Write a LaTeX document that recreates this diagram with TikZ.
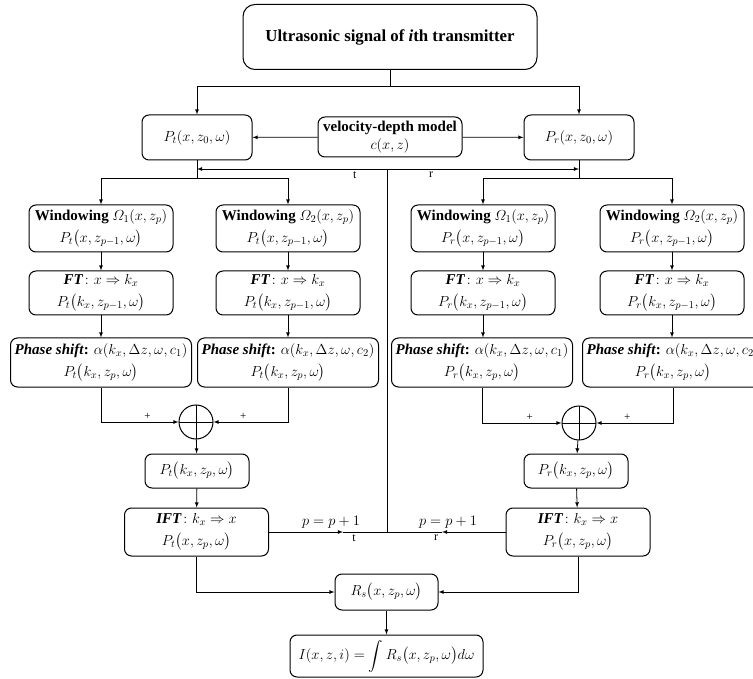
\RequirePackage{fix-cm}
\documentclass[tikz,border=0pt]{standalone}
\usepackage{amsmath}
\usepackage{fontspec}
\setmainfont{Liberation Serif}
\DeclareMathSizes{15}{14.5}{10.5}{8}
\begin{document}
\begin{tikzpicture}[
		x=1pt, y=-1pt,
		font=\fontsize{15}{22}\selectfont,
		line width=0.8pt,
		stage/.style = {draw, rounded corners=7pt, line width=1pt, align=center, inner sep=1pt},
		winbox/.style = {stage, minimum width=144pt, minimum height=47pt},
		ftbox/.style = {stage, minimum width=144pt, minimum height=44pt},
		phbox/.style = {stage, minimum width=181pt, minimum height=49pt},
		iftbox/.style = {stage, minimum width=144pt, minimum height=48pt},
		summer/.style = {draw, circle, line width=1pt, minimum size=34pt, inner sep=0pt,
				path picture={\draw (path picture bounding box.north) -- (path picture bounding box.south)
						(path picture bounding box.west) -- (path picture bounding box.east);}},
		lbl/.style = {font=\fontsize{12}{14}\selectfont, inner sep=2pt},
		plus/.style = {font=\fontsize{11}{13}\selectfont, inner sep=2pt},
	]
	\useasboundingbox (0,0) rectangle (753,679);
	\node[stage, rounded corners=12pt, minimum width=294pt, minimum height=65pt, font=\fontsize{16.8}{20}\selectfont] (sig) at (390,37) {\textbf{Ultrasonic signal of \textit{i}th transmitter}};
	\node[stage, minimum width=110pt, minimum height=45pt] (pt0) at (197,137.5) {$P_t(x,z_0,\omega)$};
	\node[stage, minimum width=144pt, minimum height=40pt] (vel) at (390,137) {\textbf{velocity-depth model}\\[-4pt]$c(x,z)$};
	\node[stage, minimum width=110pt, minimum height=45pt] (pr0) at (579,137.5) {$P_r(x,z_0,\omega)$};

	\node[winbox] (wt1) at (101,228.5) {\textbf{Windowing} $\varOmega_1(x,z_p)$\\$P_t\bigl(x,z_{p-1},\omega\bigr)$};
	\node[winbox] (wt2) at (288,228.5) {\textbf{Windowing} $\varOmega_2(x,z_p)$\\$P_t\bigl(x,z_{p-1},\omega\bigr)$};
	\node[winbox] (wr1) at (483,228.5) {\textbf{Windowing} $\varOmega_1(x,z_p)$\\$P_r\bigl(x,z_{p-1},\omega\bigr)$};
	\node[winbox] (wr2) at (672,228.5) {\textbf{Windowing} $\varOmega_2(x,z_p)$\\$P_r\bigl(x,z_{p-1},\omega\bigr)$};

	\node[ftbox] (ftt1) at (101,293) {\textbf{\textit{FT}}$\colon x\Rightarrow k_x$\\$P_t\bigl(k_x,z_{p-1},\omega\bigr)$};
	\node[ftbox] (ftt2) at (288,293) {\textbf{\textit{FT}}$\colon x\Rightarrow k_x$\\$P_t\bigl(k_x,z_{p-1},\omega\bigr)$};
	\node[ftbox] (ftr1) at (483,293) {\textbf{\textit{FT}}$\colon x\Rightarrow k_x$\\$P_r\bigl(k_x,z_{p-1},\omega\bigr)$};
	\node[ftbox] (ftr2) at (672,293) {\textbf{\textit{FT}}$\colon x\Rightarrow k_x$\\$P_r\bigl(k_x,z_{p-1},\omega\bigr)$};

	\node[phbox] (pht1) at (101,362.5) {\textbf{\textit{Phase shift}:} $\alpha(k_x,\Delta z,\omega,c_1)$\\$P_t\bigl(k_x,z_p,\omega\bigr)$};
	\node[phbox] (pht2) at (288,362.5) {\textbf{\textit{Phase shift}:} $\alpha(k_x,\Delta z,\omega,c_2)$\\$P_t\bigl(k_x,z_p,\omega\bigr)$};
	\node[phbox] (phr1) at (482,362.5) {\textbf{\textit{Phase shift}:} $\alpha(k_x,\Delta z,\omega,c_1)$\\$P_r\bigl(k_x,z_p,\omega\bigr)$};
	\node[phbox] (phr2) at (673,362.5) {\textbf{\textit{Phase shift}:} $\alpha(k_x,\Delta z,\omega,c_2)$\\$P_r\bigl(k_x,z_p,\omega\bigr)$};

	\node[summer] (sumt) at (196,422) {};
	\node[summer] (sumr) at (579,423) {};
	\node[stage, minimum width=104pt, minimum height=34pt] (ptk) at (197,471) {$P_t\bigl(k_x,z_p,\omega\bigr)$};
	\node[stage, minimum width=104pt, minimum height=34pt] (prk) at (576,471) {$P_r\bigl(k_x,z_p,\omega\bigr)$};
	\node[iftbox] (iftt) at (196.5,532) {\textbf{\textit{IFT}}$\colon k_x\Rightarrow x$\\$P_t\bigl(x,z_p,\omega\bigr)$};
	\node[iftbox] (iftr) at (578,532) {\textbf{\textit{IFT}}$\colon k_x\Rightarrow x$\\$P_r\bigl(x,z_p,\omega\bigr)$};
	\node[stage, minimum width=103pt, minimum height=36pt] (rs) at (386.5,592) {$R_s\bigl(x,z_p,\omega\bigr)$};
	\node[stage, minimum width=193pt, minimum height=42pt] (img) at (386.5,656) {$I(x,z,i)=\displaystyle\int R_s\bigl(x,z_p,\omega\bigr)d\omega$};

	\coordinate (split0) at (390,86);
	\coordinate (tsplit) at (197,178);
	\coordinate (rsplit) at (579,178);
	\coordinate (ttee) at (197,169);
	\coordinate (rtee) at (579,169);
	\coordinate (looptop) at (387,169);
	\coordinate (loopbot) at (387,532);
	\coordinate (tmid) at (343,532);
	\coordinate (rmid) at (442,532);

	\draw (sig) -- (split0);
	\draw[-latex] (split0) -| (pt0);
	\draw[-latex] (split0) -| (pr0);
	\draw[-latex] (vel) -- (pt0);
	\draw[-latex] (vel) -- (pr0);
	\draw (pt0) -- (tsplit);
	\draw (pr0) -- (rsplit);
	\draw[-latex] (looptop) -- (ttee) node[pos=0.17, below, lbl] (tup) {t};
	\draw[-latex] (looptop) -- (rtee) node[pos=0.23, below, lbl] (rup) {r};
	\draw (loopbot) -- (looptop);

	\draw[-latex] (tsplit) -| (wt1);
	\draw[-latex] (tsplit) -| (wt2);
	\draw[-latex] (rsplit) -| (wr1);
	\draw[-latex] (rsplit) -| (wr2);
	\draw[-latex] (wt1) -- (ftt1);
	\draw[-latex] (wt2) -- (ftt2);
	\draw[-latex] (wr1) -- (ftr1);
	\draw[-latex] (wr2) -- (ftr2);
	\draw[-latex] (ftt1) -- (ftt1 |- pht1.north);
	\draw[-latex] (ftt2) -- (ftt2 |- pht2.north);
	\draw[-latex] (ftr1) -- (ftr1 |- phr1.north);
	\draw[-latex] (ftr2) -- (ftr2 |- phr2.north);

	\draw[-latex] (pht1) |- node[pos=0.8, above, plus] (plus1) {+} (sumt);
	\draw[-latex] (pht2) |- node[pos=0.8, above, plus] (plus2) {+} (sumt);
	\draw[-latex] (phr1) |- node[pos=0.8, above, plus] (plus3) {+} (sumr);
	\draw[-latex] (phr2) |- node[pos=0.8, above, plus] (plus4) {+} (sumr);
	\draw[-latex] (sumt) -- (ptk);
	\draw[-latex] (sumr) -- (prk);
	\draw[-latex] (ptk) -- (iftt);
	\draw[-latex] (prk) -- (iftr);

	\draw[-latex] (iftt) -- (tmid);
	\draw (tmid) -- (loopbot);
	\draw[-latex] (iftr) -- (rmid);
	\draw (rmid) -- (loopbot);
	\node[above] (tinc) at (331,532) {$p=p+1$};
	\node[below, lbl] (tdown) at (354,532) {t};
	\node[above] (rinc) at (448,532) {$p=p+1$};
	\node[below, lbl] (rdown) at (436,532) {r};

	\draw[-latex] (iftt) |- (rs);
	\draw[-latex] (iftr) |- (rs);
	\draw[-latex] (rs) -- (img);
\end{tikzpicture}
\end{document}
